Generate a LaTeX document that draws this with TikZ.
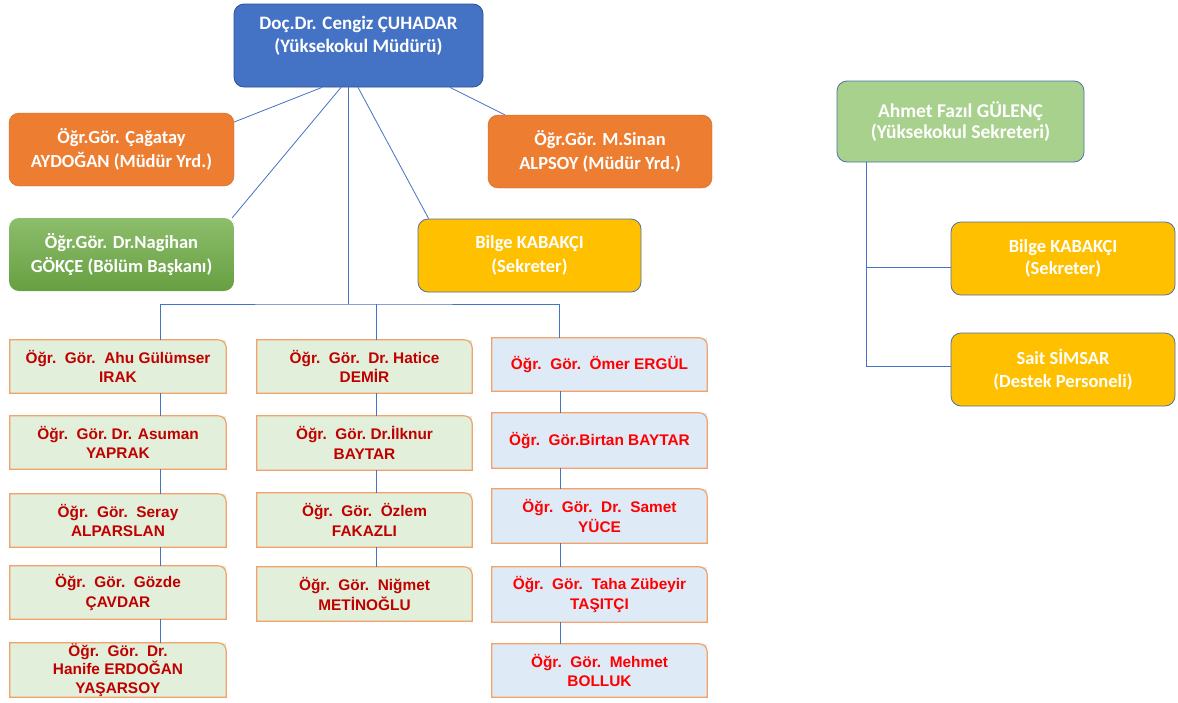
\documentclass[tikz,border=0pt]{standalone}
\usepackage{fontspec}
\newfontfamily\calf{Carlito}
\newfontfamily\arif{Liberation Sans}
\usetikzlibrary{calc}
\definecolor{mblue}{HTML}{4472C4}
\definecolor{mblueb}{HTML}{2F528F}
\definecolor{morange}{HTML}{ED7D31}
\definecolor{mgreen}{HTML}{70AD47}
\definecolor{mgold}{HTML}{FFC000}
\definecolor{mlgreen}{HTML}{A9D18E}
\definecolor{bordb}{HTML}{4E73A6}
\definecolor{leafg}{HTML}{E2EFDA}
\definecolor{leafb}{HTML}{DEEBF7}
\definecolor{leafo}{HTML}{F2A26A}
\definecolor{dred}{HTML}{C00000}
\definecolor{bred}{HTML}{FF0000}
\tikzset{
  headbox/.style={rounded corners=10pt, inner sep=0pt, align=center, text=white,
    font=\calf\bfseries\fontsize{18.5}{23.5}\selectfont},
  topbox/.style={headbox, fill=mblue, draw=mblueb, line width=0.8pt,
    minimum width=249pt, minimum height=83pt, font=\calf\bfseries\fontsize{19}{23}\selectfont},
  orbox/.style={headbox, fill=morange, draw=morange!85!black, line width=0.4pt,
    minimum width=225pt, minimum height=73pt},
  grbox/.style={headbox, top color=mgreen!80!white, bottom color=mgreen!92!black,
    minimum width=225pt, minimum height=73pt},
  goldbox/.style={headbox, fill=mgold, draw=bordb, line width=0.8pt,
    minimum width=224pt, minimum height=73pt},
  secbox/.style={headbox, fill=mlgreen, draw=bordb, line width=0.8pt,
    minimum width=247pt, minimum height=81pt, font=\calf\bfseries\fontsize{19.5}{21.5}\selectfont},
  leaf/.style={inner sep=0pt, align=center, minimum width=216pt,
    font=\arif\bfseries\fontsize{15.4}{19.5}\selectfont},
  leafA/.style={leaf, fill=leafg, text=dred},
  leafC/.style={leaf, fill=leafb, text=bred},
  leafline/.style={draw=leafo, line width=1.2pt},
  conn/.style={draw=mblue, line width=0.8pt}
}
\newcommand\leafborder[1]{\draw[leafline] (#1.south west) -- (#1.north west) -- ([xshift=-8pt]#1.north east) arc[start angle=-90,end angle=0,radius=8] -- (#1.south east) -- cycle;}
\begin{document}
\begin{tikzpicture}[x=1pt,y=-1pt]
\useasboundingbox[fill=white] (0,0) rectangle (1178,702);
% head boxes
\node[topbox] (T) at (358.5,45.5) {Doç.Dr. Cengiz ÇUHADAR\\(Yüksekokul Müdürü)\\\mbox{}};
\node[orbox] (A) at (121.5,149.5) {Öğr.Gör. Çağatay\\AYDOĞAN (Müdür Yrd.)};
\node[orbox, minimum width=224pt] (S) at (600,151.5) {Öğr.Gör. M.Sinan\\ALPSOY (Müdür Yrd.)};
\node[grbox] (N) at (121.5,254.5) {Öğr.Gör. Dr.Nagihan\\GÖKÇE (Bölüm Başkanı)};
\node[goldbox, minimum width=223pt] (B) at (529.5,255.5) {Bilge KABAKÇI\\(Sekreter)};
% right group
\node[secbox] (R0) at (960.5,121.5) {Ahmet Fazıl GÜLENÇ\\(Yüksekokul Sekreteri)};
\node[goldbox, font=\calf\bfseries\fontsize{18.5}{22.5}\selectfont] (R1) at (1063,258.5) {Bilge KABAKÇI\\(Sekreter)};
\node[goldbox, font=\calf\bfseries\fontsize{18.5}{22.5}\selectfont] (R2) at (1063,369.5) {Sait SİMSAR\\(Destek Personeli)};
% column 1
\node[leafA, minimum height=53pt] (a1) at (118,366.5) {Öğr.\ \ Gör.\ \ Ahu Gülümser\\IRAK};
\node[leafA, minimum height=53pt] (a2) at (118,442.5) {Öğr.\ \ Gör.\ Dr. Asuman\\YAPRAK};
\node[leafA, minimum height=53pt] (a3) at (118,520.5) {Öğr.\ \ Gör.\ \ Seray\\ALPARSLAN};
\node[leafA, minimum height=53pt] (a4) at (118,592.5) {Öğr.\ \ Gör.\ \ Gözde\\ÇAVDAR};
\node[leafA, minimum height=54pt, font=\arif\bfseries\fontsize{15.4}{18.5}\selectfont] (a5) at (118,670) {Öğr.\ \ Gör.\ \ Dr.\\Hanife ERDOĞAN\\YAŞARSOY};
% column 2
\node[leafA, minimum width=215pt, minimum height=53pt] (b1) at (364.5,366.5) {Öğr.\ \ Gör.\ \ Dr.\ Hatice\\DEMİR};
\node[leafA, minimum width=215pt, minimum height=54pt] (b2) at (364.5,443) {Öğr.\ \ Gör.\ Dr.İlknur\\BAYTAR};
\node[leafA, minimum width=215pt, minimum height=54pt] (b3) at (364.5,520) {Öğr.\ \ Gör.\ \ Özlem\\FAKAZLI};
\node[leafA, minimum width=215pt, minimum height=54pt] (b4) at (364.5,594) {Öğr.\ \ Gör.\ \ Niğmet\\METİNOĞLU};
% column 3
\node[leafC, minimum width=215pt, minimum height=53pt] (c1) at (599.5,364.5) {Öğr.\ \ Gör.\ \ Ömer ERGÜL};
\node[leafC, minimum width=215pt, minimum height=55pt] (c2) at (599.5,440.5) {Öğr.\ \ Gör.Birtan BAYTAR};
\node[leafC, minimum width=215pt, minimum height=54pt] (c3) at (599.5,516) {Öğr.\ \ Gör.\ \ Dr.\ \ Samet\\YÜCE};
\node[leafC, minimum width=215pt, minimum height=55pt] (c4) at (599.5,594.5) {Öğr.\ \ Gör.\ \ Taha Zübeyir\\TAŞITÇI};
\node[leafC, minimum width=215pt, minimum height=53pt] (c5) at (599.5,670.5) {Öğr.\ \ Gör.\ \ Mehmet\\BOLLUK};
\foreach \n in {a1,a2,a3,a4,a5,b1,b2,b3,b4,c1,c2,c3,c4,c5}{\leafborder{\n}}
% connectors from the head
\coordinate (bus) at (348,304);
\draw[conn] ([xshift=-36.5pt]T.south) -- ([yshift=27.5pt]A.east);
\draw[conn] ([xshift=-17.5pt]T.south) -- ([xshift=-2pt]N.north east);
\draw[conn] ([xshift=-10.5pt]T.south) -- (bus);
\draw[conn] ([xshift=-0.5pt]T.south) -- ([xshift=11pt]B.north west);
\draw[conn] ([xshift=91.5pt]T.south) -- ([xshift=17pt]S.north west);
\draw[conn] ([xshift=42pt]a1.north) |- (bus) -| ([xshift=-40.5pt]c1.north);
\draw[conn] ([xshift=11.5pt]b1.north) -- ([xshift=11.5pt]b1.north |- bus);
% column chains
\foreach \u/\v in {a1/a2,a2/a3,a3/a4,a4/a5}{\draw[conn] ([xshift=42pt]\u.south) -- ([xshift=42pt]\v.north);}
\foreach \u/\v in {b1/b2,b2/b3,b3/b4}{\draw[conn] ([xshift=11.5pt]\u.south) -- ([xshift=11.5pt]\v.north);}
\foreach \u/\v in {c1/c2,c2/c3,c3/c4,c4/c5}{\draw[conn] ([xshift=-39.5pt]\u.south) -- ([xshift=-39.5pt]\v.north);}
% right group connectors
\coordinate (rv) at ([xshift=-94.5pt]R0.south);
\coordinate (r1) at ([yshift=-8.5pt]R1.west);
\coordinate (r2) at ([yshift=3.5pt]R2.west);
\draw[conn] (rv) |- (r2);
\draw[conn] (r1) -- (rv |- r1);
\end{tikzpicture}
\end{document}
